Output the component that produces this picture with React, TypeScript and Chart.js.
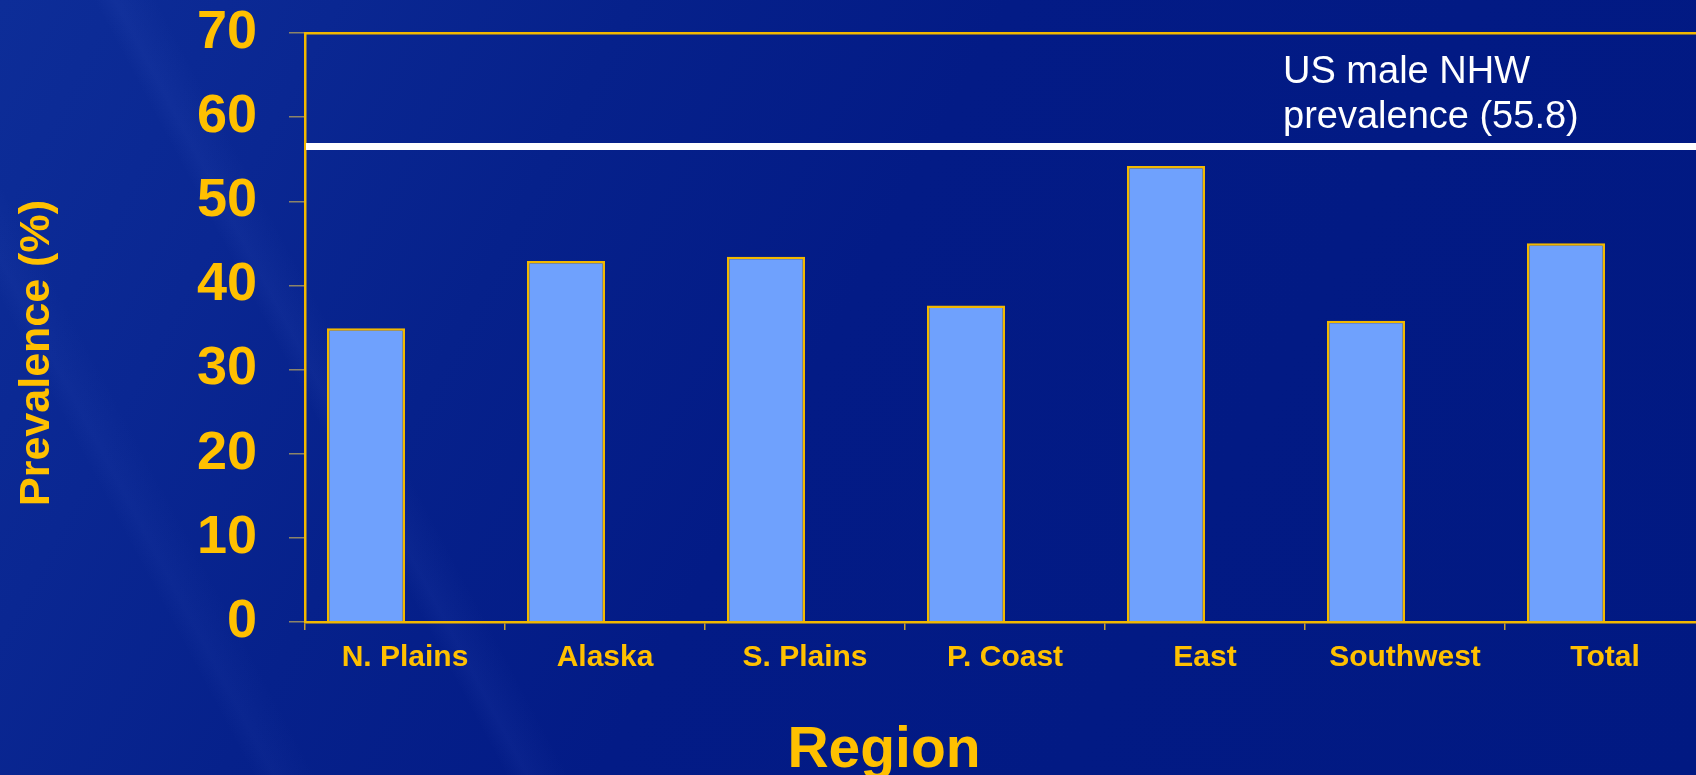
import React, { useEffect, useRef } from "react";
import { Chart, registerables } from "chart.js";

Chart.register(...registerables);

// ---- data ----
const regions = ["N. Plains", "Alaska", "S. Plains", "P. Coast", "East", "Southwest", "Total"];
const prevalence = [34.9, 42.9, 43.4, 37.6, 54.2, 35.8, 45.0];
const emptySeries = [null, null, null, null, null, null, null];
const yTickValues = [0, 10, 20, 30, 40, 50, 60, 70];
const usReferenceValue = 56.5;
const usReferenceLabel = ["US male NHW", "prevalence (55.8)"];
const yAxisTitle = "Prevalence (%)";
const xAxisTitle = "Region";

const FONT = '"Liberation Sans", Arial, Helvetica, sans-serif';
const GOLD = "#FFC000";
const AXIS_GOLD = "#F2B800";

const CANVAS_W = 1712;
const CANVAS_H = 775;

const overlayPlugin = {
  id: "overlay",
  afterDatasetsDraw(chart: any) {
    const { ctx, chartArea, scales } = chart;
    const y = scales.y;
    const lineY = y.getPixelForValue(usReferenceValue);
    ctx.save();
    // reference line
    ctx.strokeStyle = "#FFFFFF";
    ctx.lineWidth = 7;
    ctx.beginPath();
    ctx.moveTo(chartArea.left + 1, lineY);
    ctx.lineTo(chartArea.right, lineY);
    ctx.stroke();
    // reference label
    ctx.fillStyle = "#FFFFFF";
    ctx.font = `38px ${FONT}`;
    ctx.textAlign = "left";
    ctx.textBaseline = "alphabetic";
    ctx.fillText(usReferenceLabel[0], chartArea.left + 978, lineY - 64);
    ctx.fillText(usReferenceLabel[1], chartArea.left + 978, lineY - 19);
    // y title
    ctx.fillStyle = GOLD;
    ctx.font = `bold 43px ${FONT}`;
    ctx.textAlign = "center";
    ctx.translate(49, 353);
    ctx.rotate(-Math.PI / 2);
    ctx.fillText(yAxisTitle, 0, 0);
    ctx.restore();
    // x title
    ctx.save();
    ctx.fillStyle = GOLD;
    ctx.font = `bold 57px ${FONT}`;
    ctx.textAlign = "center";
    ctx.textBaseline = "alphabetic";
    ctx.fillText(xAxisTitle, 884, 767);
    ctx.restore();
  },
};

export default function App() {
  const canvasRef = useRef<HTMLCanvasElement | null>(null);

  useEffect(() => {
    const canvas = canvasRef.current;
    if (!canvas) return;
    const chart = new Chart(canvas, {
      type: "bar",
      data: {
        labels: regions,
        datasets: [
          {
            data: prevalence,
            backgroundColor: "#6FA1FD",
            borderColor: AXIS_GOLD,
            borderWidth: 2.5,
            categoryPercentage: 0.78,
            barPercentage: 1,
          },
          {
            data: emptySeries as any,
            backgroundColor: "#6FA1FD",
            borderColor: AXIS_GOLD,
            borderWidth: 2.5,
            categoryPercentage: 0.78,
            barPercentage: 1,
          },
        ],
      },
      options: {
        responsive: false,
        animation: false,
        devicePixelRatio: 1,
        layout: { padding: { top: 33, right: 7, bottom: 0, left: 0 } },
        plugins: {
          legend: { display: false },
          tooltip: { enabled: false },
        },
        scales: {
          x: {
            type: "category",
            position: "bottom",
            grid: {
              display: true,
              drawOnChartArea: false,
              drawTicks: true,
              tickLength: 8,
              color: "#C9A030",
              lineWidth: 1.5,
              offset: true,
            },
            border: { display: true, color: AXIS_GOLD, width: 2.5 },
            ticks: {
              color: GOLD,
              font: { family: FONT, weight: "bold", size: 30 },
              padding: 10,
              maxRotation: 0,
              autoSkip: false,
            },
            afterFit: (s: any) => {
              s.height = 153;
              s.paddingLeft = 0;
              s.paddingRight = 0;
            },
          },
          x2: {
            type: "category",
            position: "top",
            labels: regions,
            grid: { display: false },
            ticks: { display: false },
            border: { display: true, color: AXIS_GOLD, width: 2.5 },
            afterFit: (s: any) => {
              s.height = 0;
              s.paddingLeft = 0;
              s.paddingRight = 0;
            },
          },
          y: {
            type: "linear",
            min: 0,
            max: 70,
            afterBuildTicks: (s: any) => {
              s.ticks = yTickValues.map((v) => ({ value: v }));
            },
            ticks: {
              color: GOLD,
              font: { family: FONT, weight: "bold", size: 54 },
              padding: 32,
            },
            grid: {
              display: true,
              drawOnChartArea: false,
              drawTicks: true,
              tickLength: 16,
              color: "#8C8468",
              lineWidth: 1.5,
            },
            border: { display: true, color: AXIS_GOLD, width: 2.5 },
            afterFit: (s: any) => {
              s.width = 305;
              s.paddingTop = 0;
              s.paddingBottom = 0;
            },
          },
        },
      } as any,
      plugins: [overlayPlugin],
    });
    return () => chart.destroy();
  }, []);

  return (
    <div
      style={{
        position: "fixed",
        left: 0,
        top: 0,
        width: 1696,
        height: 775,
        overflow: "hidden",
        background:
          "linear-gradient(62deg, rgba(255,255,255,0) 24%, rgba(120,150,255,0.05) 25%, rgba(255,255,255,0) 27%), linear-gradient(62deg, rgba(255,255,255,0) 12%, rgba(120,150,255,0.04) 13%, rgba(255,255,255,0) 15%), linear-gradient(118deg, #0d2d98 0%, #0a2792 16%, #06218b 30%, #031b86 48%, #021a84 70%, #011982 100%)",
      }}
    >
      <canvas
        ref={canvasRef}
        width={CANVAS_W}
        height={CANVAS_H}
        style={{ display: "block", width: CANVAS_W, height: CANVAS_H }}
      />
    </div>
  );
}
